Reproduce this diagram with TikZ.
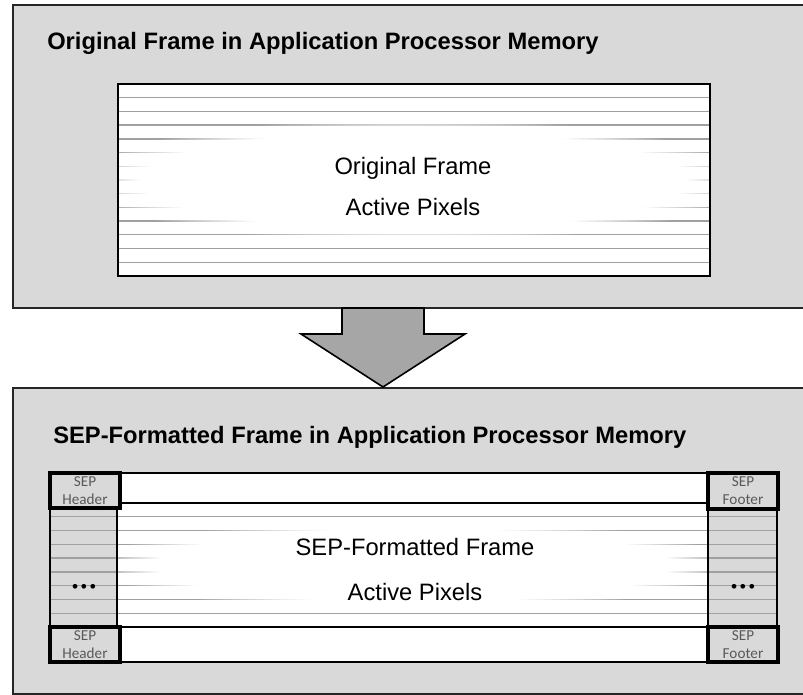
\documentclass[tikz,border=0pt]{standalone}
\usepackage{fontspec}
\setmainfont{Liberation Sans}
\newfontfamily\sepfont{Carlito}
\usetikzlibrary{fadings}
\definecolor{Panel}{HTML}{D9D9D9}
\definecolor{Stripe}{HTML}{A0A0A0}
\definecolor{ArrowFill}{HTML}{A6A6A6}
\definecolor{LabelGray}{HTML}{595959}

\begin{document}
\begin{tikzpicture}[x=0.75pt, y=-0.75pt,
    panel/.style={fill=Panel, draw=black!85, line width=1.6pt},
    framebox/.style={draw=black, line width=1.4pt},
    sepbox/.style={draw=black, line width=2.4pt},
    stripe/.style={draw=Stripe, line width=1pt},
    title/.style={anchor=base west, inner sep=0pt, font=\fontsize{17.8}{21}\selectfont\bfseries},
    body/.style={anchor=base, inner sep=0pt, font=\fontsize{17.8}{21}\selectfont},
    seplabel/.style={inner sep=0pt, align=center, text=LabelGray, font=\sepfont\fontsize{11.4}{13.5}\selectfont},
    dots/.style={inner sep=0pt, font=\fontsize{13}{13}\selectfont}]
  \useasboundingbox (0,0) rectangle (803,695);

  % memory panels
  \draw[panel] (13,5) rectangle (812,308);
  \draw[panel] (13,388) rectangle (812,694);
  \node[title] (origtitle) at (47,50) {Original Frame in Application Processor Memory};
  \node[title] (septitle) at (53,443) {SEP-Formatted Frame in Application Processor Memory};

  % original frame
  \begin{scope}
    \clip (118,84) rectangle (710,276);
    \fill[white] (118,84) rectangle (710,276);
    \foreach \i in {1,...,13}
      \draw[stripe] (118,84+13.71*\i) -- (710,84+13.71*\i);
    \fill[white, path fading=circle with fuzzy edge 20 percent] (413,180) ellipse [x radius=340, y radius=62];
  \end{scope}
  \draw[framebox] (118,84) rectangle (710,276);
  \node[body] (origname) at (413,175) {Original Frame};
  \node[body] (origpix) at (413,216) {Active Pixels};

  % block arrow
  \draw[fill=ArrowFill, line width=1.2pt, line join=miter] (342,308) -- (342,334) -- (301,334) -- (383,387) -- (465,334) -- (424,334) -- (424,308) -- cycle;

  % SEP-formatted frame
  \begin{scope}
    \clip (117,473) rectangle (708,662);
    \fill[white] (117,473) rectangle (708,662);
    \foreach \i in {1,...,8}
      \draw[stripe] (117,503+13.78*\i) -- (708,503+13.78*\i);
    \fill[white, path fading=circle with fuzzy edge 20 percent] (413,565) ellipse [x radius=320, y radius=46];
  \end{scope}
  \draw[framebox] (120,473) rectangle (708,503);
  \draw[framebox] (120,627) rectangle (708,662);
  \node[body] (sepname) at (415,555) {SEP-Formatted Frame};
  \node[body] (seppix) at (415,600) {Active Pixels};

  % header and footer columns
  \foreach \x/\w in {50/117, 708/777} {
    \fill[Panel] (\x,508) rectangle (\w,627);
    \foreach \i in {1,...,8}
      \draw[stripe] (\x,503+13.78*\i) -- (\w,503+13.78*\i);
    \draw[black, line width=1pt] (\x,508) rectangle (\w,627);
  }
  \node[dots] (leftdots) at (84,588) {•\,•\,•};
  \node[dots] (rightdots) at (743,588) {•\,•\,•};

  \draw[sepbox, fill=Panel] (50,473) rectangle (120,508);
  \draw[sepbox, fill=Panel] (50,627) rectangle (120,662);
  \draw[sepbox, fill=Panel] (708,473) rectangle (778,509);
  \draw[sepbox, fill=Panel] (708,627) rectangle (778,662);
  \node[seplabel] (hdrtop) at (85,491) {SEP\\Header};
  \node[seplabel] (hdrbot) at (85,645) {SEP\\Header};
  \node[seplabel] (ftrtop) at (743,491) {SEP\\Footer};
  \node[seplabel] (ftrbot) at (743,645) {SEP\\Footer};
\end{tikzpicture}
\end{document}
